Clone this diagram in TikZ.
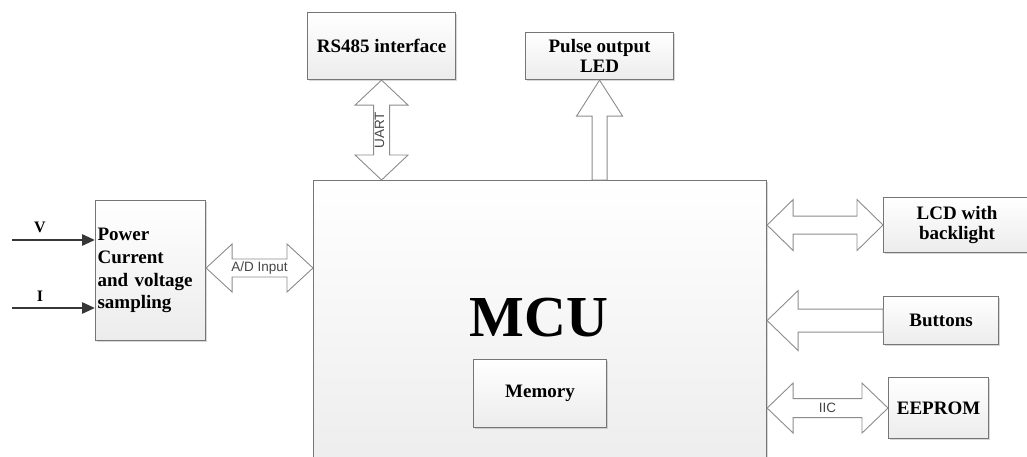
\documentclass[tikz,border=0pt]{standalone}
\usepackage{fontspec}
\setmainfont{Liberation Serif}
\newfontfamily\labelfont{Liberation Sans}
\usetikzlibrary{calc,shadows,arrows.meta}

\definecolor{edgegray}{RGB}{118,118,118}
\definecolor{arrowgray}{RGB}{140,140,140}
\definecolor{fillend}{RGB}{236,236,236}
\definecolor{labelgray}{RGB}{70,70,70}
\definecolor{wiregray}{RGB}{55,55,55}

\tikzset{
  block/.style={draw=edgegray, line width=1.1pt, top color=white, bottom color=fillend,
    inner sep=0pt, anchor=north west,
    font=\bfseries\fontsize{19}{22.7}\selectfont,
    drop shadow={shadow xshift=1.3pt, shadow yshift=-1.3pt, opacity=0.3}},
  twoline/.style={align=center, font=\bfseries\fontsize{19}{20}\selectfont},
  blockarrow/.style={draw=arrowgray, line width=0.9pt, fill=white, line join=miter},
  arrowlabel/.style={font=\labelfont\fontsize{13.5}{15}\selectfont, text=labelgray, inner sep=0pt},
  signal/.style={draw=wiregray, line width=2.8pt, -{Triangle[length=13pt,width=11pt]}},
  siglabel/.style={font=\bfseries\fontsize{16}{17}\selectfont, inner sep=0pt}
}

% horizontal block arrow with heads at both ends
% #1 left end, #2 right end, #3 head half-width, #4 shaft half-width, #5 head length, #6 label, #7 label name
\newcommand{\hdoublearrow}[7]{%
  \draw[blockarrow] let \p1=#1, \p2=#2 in
    (\x1,\y1) -- (\x1+#5,\y1+#3) -- (\x1+#5,\y1+#4) -- (\x2-#5,\y1+#4) -- (\x2-#5,\y1+#3)
    -- (\x2,\y1) -- (\x2-#5,\y1-#3) -- (\x2-#5,\y1-#4) -- (\x1+#5,\y1-#4) -- (\x1+#5,\y1-#3) -- cycle
    ({(\x1+\x2)/2},\y1) node[arrowlabel] (#7) {#6};
}
% vertical block arrow with heads at both ends (#1 upper end, #2 lower end)
\newcommand{\vdoublearrow}[7]{%
  \draw[blockarrow] let \p1=#1, \p2=#2 in
    (\x1,\y1) -- (\x1+#3,\y1-#5) -- (\x1+#4,\y1-#5) -- (\x1+#4,\y2+#5) -- (\x1+#3,\y2+#5)
    -- (\x1,\y2) -- (\x1-#3,\y2+#5) -- (\x1-#4,\y2+#5) -- (\x1-#4,\y1-#5) -- (\x1-#3,\y1-#5) -- cycle
    (\x1-2pt,{(\y1+\y2)/2}) node[arrowlabel, rotate=90] (#7) {#6};
}
% upward block arrow (#1 tip, #2 tail)
\newcommand{\uparrowblock}[5]{%
  \draw[blockarrow] let \p1=#1, \p2=#2 in
    (\x1,\y1) -- (\x1+#3,\y1-#5) -- (\x1+#4,\y1-#5) -- (\x1+#4,\y2) -- (\x1-#4,\y2)
    -- (\x1-#4,\y1-#5) -- (\x1-#3,\y1-#5) -- cycle;
}
% leftward block arrow (#1 tip, #2 tail)
\newcommand{\leftarrowblock}[5]{%
  \draw[blockarrow] let \p1=#1, \p2=#2 in
    (\x1,\y1) -- (\x1+#5,\y1+#3) -- (\x1+#5,\y1+#4) -- (\x2,\y1+#4) -- (\x2,\y1-#4)
    -- (\x1+#5,\y1-#4) -- (\x1+#5,\y1-#3) -- cycle;
}

\begin{document}
\begin{tikzpicture}[x=1pt, y=-1pt]
\clip (0,0) rectangle (1027,457);
\fill[white] (0,0) rectangle (1027,457);

% main controller
\node[block, minimum width=453pt, minimum height=300pt] (mcu) at (313,180) {};
\node[font=\bfseries\fontsize{58}{60}\selectfont, anchor=base, inner sep=0pt] (mcutext) at (539,336) {MCU};
\node[block, minimum width=133pt, minimum height=68pt] (mem) at (473,359) {Memory};

% peripherals
\node[block, minimum width=148pt, minimum height=67pt] (rs) at (307,12) {RS485 interface};
\node[block, twoline, minimum width=148pt, minimum height=47pt] (led) at (525,32) {Pulse output\\LED};
\node[block, minimum width=110pt, minimum height=140pt, align=left, text width=106pt] (pow) at (95,200)
  {Power\\Current\\and voltage\\sampling};
\node[block, twoline, minimum width=147pt, minimum height=55pt] (lcd) at (883,197) {LCD with\\backlight};
\node[block, minimum width=115pt, minimum height=48pt] (btn) at (883,296) {Buttons};
\node[block, minimum width=100pt, minimum height=61pt] (eep) at (888,377) {EEPROM};

% measured inputs
\coordinate (vin) at (12,240);
\coordinate (iin) at (12,308);
\draw[signal] (vin) -- (vin -| pow.west);
\draw[signal] (iin) -- (iin -| pow.west);
\node[siglabel] (vlab) at (40,227) {V};
\node[siglabel] (ilab) at (40,296) {I};

% buses
\coordinate (adlevel) at (0,268);
\hdoublearrow{(pow.east |- adlevel)}{(mcu.west |- adlevel)}{24pt}{9pt}{26pt}{A/D Input}{adtext}
\vdoublearrow{(rs.south)}{(rs.south |- mcu.north)}{26.5pt}{8pt}{25pt}{UART}{uarttext}
\uparrowblock{(led.south)}{(led.south |- mcu.north)}{23pt}{7.5pt}{36pt}
\hdoublearrow{(mcu.east |- lcd.west)}{(lcd.west)}{25.5pt}{9pt}{26pt}{}{lcdbus}
\leftarrowblock{(mcu.east |- btn.west)}{(btn.west)}{30pt}{11.5pt}{31pt}
\hdoublearrow{(mcu.east |- eep.west)}{(eep.west)}{25pt}{9.5pt}{26pt}{IIC}{iictext}
\end{tikzpicture}
\end{document}
